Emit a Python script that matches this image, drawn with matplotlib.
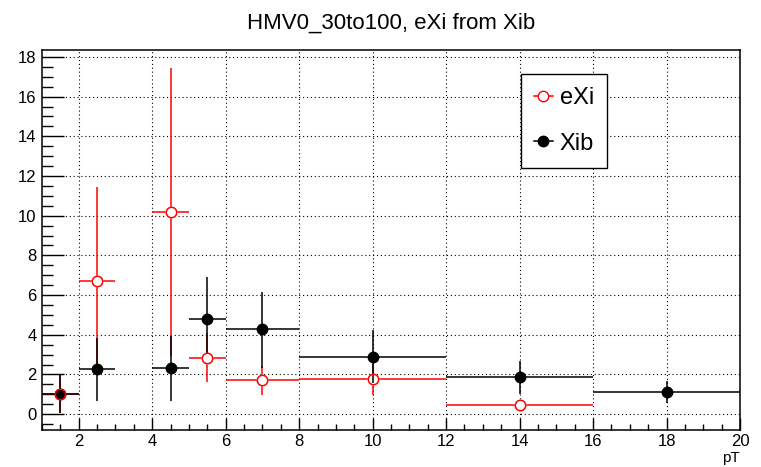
import numpy as np
from matplotlib import pyplot as plt
from matplotlib.lines import Line2D
from matplotlib.ticker import MultipleLocator

plt.rcParams['font.family'] = ['Liberation Sans', 'DejaVu Sans']

# bins (center, half width)
EXI_X = [1.5, 2.5, 4.5, 5.5, 7.0, 10.0, 14.0]
EXI_XERR = [0.5, 0.5, 0.5, 0.5, 1.0, 2.0, 2.0]
EXI_Y = [1.0, 6.7, 10.2, 2.85, 1.7, 1.75, 0.45]
EXI_YERR = [0.95, 4.75, 7.25, 1.22, 0.75, 0.8, 0.08]

XIB_X = [1.5, 2.5, 4.5, 5.5, 7.0, 10.0, 14.0, 18.0]
XIB_XERR = [0.5, 0.5, 0.5, 0.5, 1.0, 2.0, 2.0, 2.0]
XIB_Y = [1.0, 2.25, 2.3, 4.8, 4.3, 2.9, 1.85, 1.1]
XIB_YERR_LO = [0.95, 1.6, 1.65, 1.7, 2.0, 1.35, 0.85, 0.55]
XIB_YERR_HI = [0.95, 1.6, 1.65, 2.1, 1.85, 1.35, 0.85, 0.55]

RED = '#ff0000'


def main():
    fig = plt.figure(figsize=(7.61, 4.67), dpi=100)
    ax = fig.add_axes([42 / 761, 1 - 430 / 467, 698 / 761, 380 / 467])

    # red error lines, then white filled markers (gap around marker)
    ax.errorbar(EXI_X, EXI_Y, xerr=EXI_XERR, yerr=EXI_YERR, fmt='none',
                ecolor=RED, elinewidth=1.1, capsize=0, zorder=2)
    ax.plot(EXI_X, EXI_Y, 'o', ms=7.5, mfc='white', mec='white', zorder=2.5)

    ax.errorbar(XIB_X, XIB_Y, xerr=XIB_XERR, yerr=[XIB_YERR_LO, XIB_YERR_HI],
                fmt='o', color='black', ms=7.5, elinewidth=1.1, capsize=0, zorder=3)

    ax.plot(EXI_X, EXI_Y, 'o', ms=7.5, mfc='none', mec=RED, mew=1.1, zorder=4)

    ax.set_xlim(1, 20)
    ax.set_ylim(-0.8, 18.35)
    ax.xaxis.set_major_locator(MultipleLocator(2))
    ax.xaxis.set_minor_locator(MultipleLocator(0.5))
    ax.yaxis.set_major_locator(MultipleLocator(2))
    ax.yaxis.set_minor_locator(MultipleLocator(0.5))
    ax.tick_params(which='both', direction='in', labelsize=12, width=1.0)
    ax.tick_params(axis='y', which='major', length=16)
    ax.tick_params(axis='y', which='minor', length=8)
    ax.tick_params(axis='x', which='major', length=9)
    ax.tick_params(axis='x', which='minor', length=4.5)
    ax.tick_params(axis='x', pad=3)
    ax.tick_params(axis='y', pad=4)
    ax.grid(True, which='major', color='black', linestyle=(0, (1, 2.5)), linewidth=0.8)
    for s in ax.spines.values():
        s.set_linewidth(1.1)

    ax.set_title('HMV0_30to100, eXi from Xib', fontsize=16, pad=15)
    ax.text(1.0, -0.074, 'pT', transform=ax.transAxes, ha='right', va='center', fontsize=11)

    handles = [Line2D([], [], color=RED, marker='o', mfc='white', mec=RED, ms=7.5, lw=1.1),
               Line2D([], [], color='black', marker='o', ms=7.5, lw=1.1)]
    leg = ax.legend(handles, ['eXi', 'Xib'], loc='upper left', bbox_to_anchor=(0.686, 0.937),
                    borderaxespad=0, fontsize=17, handlelength=0.8, handletextpad=0.3,
                    labelspacing=1.0, borderpad=0.55, fancybox=False, framealpha=1,
                    edgecolor='black')
    leg.get_frame().set_linewidth(1.0)

    fig.savefig('out.png', dpi=100, facecolor='white')


if __name__ == '__main__':
    main()
